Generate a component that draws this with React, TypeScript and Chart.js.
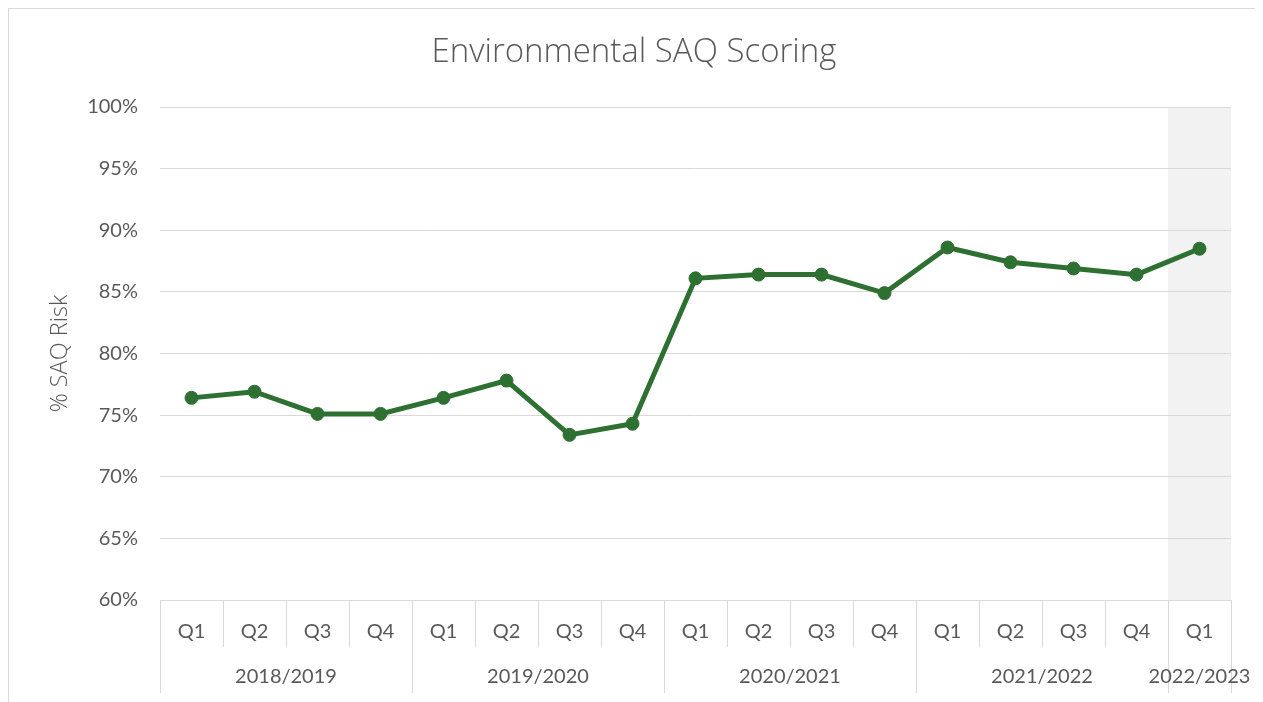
import React, { useEffect, useRef } from "react";
import { Chart, registerables } from "chart.js";

Chart.register(...registerables);

const quarterLabels = ["Q1", "Q2", "Q3", "Q4", "Q1", "Q2", "Q3", "Q4", "Q1", "Q2", "Q3", "Q4", "Q1", "Q2", "Q3", "Q4", "Q1"];
const scoreValues = [76.4, 76.9, 75.1, 75.1, 76.4, 77.8, 73.4, 74.3, 86.1, 86.4, 86.4, 84.9, 88.6, 87.4, 86.9, 86.4, 88.5];
const yearLabels = ["2018/2019", "2019/2020", "2020/2021", "2021/2022", "2022/2023"];
const yearSpans = [4, 4, 4, 4, 1];
const highlightIndex = 16;
const yMin = 60;
const yMax = 100;
const yStep = 5;

const TEXT = "#595959";
const GRID = "#d9d9d9";
const FONT = "Lato, 'Open Sans', sans-serif";
const TITLE_FONT = "'Open Sans', Lato, sans-serif";

const shadePlugin = {
  id: "shadeLast",
  beforeDraw(chart: any) {
    const x = chart.scales.x;
    const y = chart.scales.y;
    const ctx = chart.ctx;
    const half = (x.getPixelForValue(1) - x.getPixelForValue(0)) / 2;
    const cx = x.getPixelForValue(highlightIndex);
    const top = y.getPixelForValue(yMax);
    const bottom = y.getPixelForValue(yMin);
    ctx.save();
    ctx.fillStyle = "#f2f2f2";
    ctx.fillRect(cx - half, top, half * 2, bottom - top);
    ctx.restore();
  },
};

const groupAxisPlugin = {
  id: "groupAxis",
  afterDraw(chart: any) {
    const x = chart.scales.x;
    const ctx = chart.ctx;
    const base = chart.chartArea.bottom;
    const half = (x.getPixelForValue(1) - x.getPixelForValue(0)) / 2;
    ctx.save();
    ctx.strokeStyle = GRID;
    ctx.lineWidth = 1;
    const boundaries = new Set<number>();
    let idx = 0;
    boundaries.add(0);
    yearSpans.forEach((s) => {
      idx += s;
      boundaries.add(idx);
    });
    for (let i = 0; i <= quarterLabels.length; i++) {
      const px = Math.round(x.getPixelForValue(i) - half) + 0.5;
      const len = boundaries.has(i) ? 93 : 47;
      ctx.beginPath();
      ctx.moveTo(px, base);
      ctx.lineTo(px, base + len);
      ctx.stroke();
    }
    ctx.fillStyle = TEXT;
    ctx.font = `20px ${FONT}`;
    ctx.textAlign = "center";
    ctx.textBaseline = "middle";
    let start = 0;
    yearLabels.forEach((lab, i) => {
      const end = start + yearSpans[i] - 1;
      const cx = (x.getPixelForValue(start) + x.getPixelForValue(end)) / 2;
      ctx.fillText(lab, cx, base + 77);
      start += yearSpans[i];
    });
    ctx.restore();
  },
};

export default function App() {
  const ref = useRef<HTMLCanvasElement | null>(null);
  useEffect(() => {
    if (!ref.current) return;
    const chart = new Chart(ref.current, {
      type: "line",
      data: {
        labels: quarterLabels,
        datasets: [
          {
            label: "% SAQ Risk",
            data: scoreValues,
            yAxisID: "y",
            borderColor: "#2E7032",
            backgroundColor: "#2E7032",
            borderWidth: 5,
            pointRadius: 6.5,
            pointBorderWidth: 1,
            pointBackgroundColor: "#2E7032",
            pointBorderColor: "#2E7032",
            tension: 0,
          },
        ],
      },
      plugins: [shadePlugin, groupAxisPlugin],
      options: {
        animation: false,
        responsive: true,
        maintainAspectRatio: false,
        layout: { padding: { left: 0, right: 0, top: 0, bottom: 0 } },
        plugins: {
          legend: { display: false },
          tooltip: { enabled: false },
          title: {
            display: true,
            text: "Environmental SAQ Scoring",
            color: TEXT,
            font: { family: TITLE_FONT, size: 33, weight: "300", lineHeight: 1.2 },
            padding: { top: 24, bottom: 34.4 },
          },
        },
        scales: {
          x: {
            type: "category",
            offset: true,
            grid: { display: true, drawOnChartArea: false, drawTicks: false },
            border: { display: true, color: GRID, width: 1 },
            ticks: {
              color: TEXT,
              font: { family: FONT, size: 20 },
              padding: 20,
              maxRotation: 0,
              autoSkip: false,
            },
            afterFit(scale: any) {
              scale.height = 107;
            },
          },
          y: {
            min: yMin,
            max: yMax,
            grid: { color: GRID, drawTicks: false },
            border: { display: false },
            ticks: {
              stepSize: yStep,
              color: TEXT,
              font: { family: FONT, size: 20 },
              padding: 22,
              callback: (v: any) => `${v}%`,
            },
            title: {
              display: true,
              text: "% SAQ Risk",
              color: TEXT,
              font: { family: TITLE_FONT, size: 23.5, weight: "300" },
              padding: { top: 37, bottom: 0 },
            },
            afterFit(scale: any) {
              scale.width = 151;
            },
          },
          spacer: {
            type: "linear",
            position: "right",
            display: true,
            grid: { display: false, drawOnChartArea: false, drawTicks: false },
            border: { display: false },
            ticks: { display: false },
            afterFit(scale: any) {
              scale.width = 28;
            },
          },
        },
      },
    });
    return () => chart.destroy();
  }, []);
  return (
    <div style={{ width: 1250, height: 698, border: `1px solid ${GRID}`, position: "relative" }}>
      <canvas ref={ref} />
    </div>
  );
}
